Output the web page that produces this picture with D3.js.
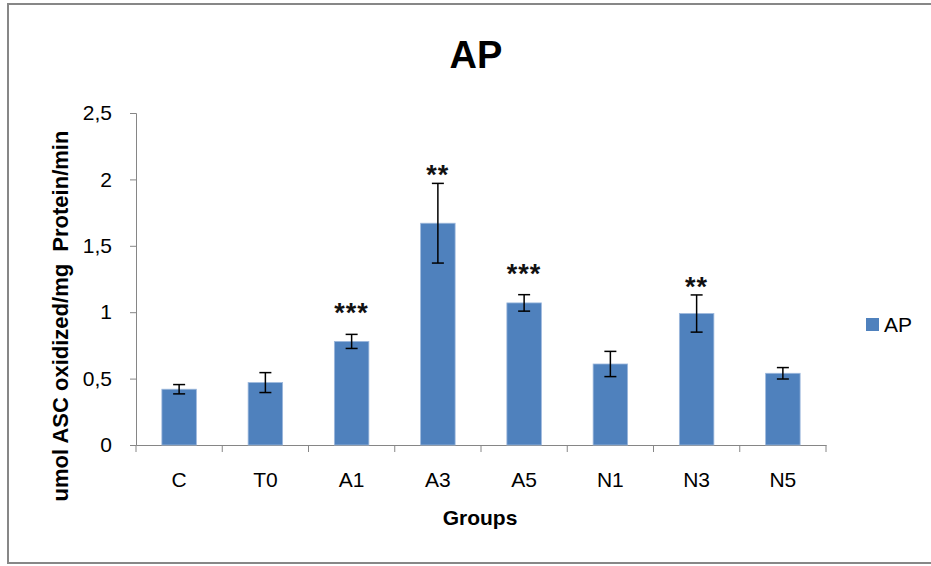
<!DOCTYPE html>
<html>
<head>
<meta charset="utf-8">
<script src="https://cdn.jsdelivr.net/npm/d3@7"></script>
<style>
  body { margin: 0; background: #fff; }
  text { font-family: "Liberation Sans", Arial, sans-serif; }
</style>
</head>
<body>
<div class="container"></div>
<script>
const groups = ["C", "T0", "A1", "A3", "A5", "N1", "N3", "N5"];
const apValues = [0.42, 0.47, 0.78, 1.67, 1.07, 0.61, 0.99, 0.54];
const apErrors = [0.035, 0.075, 0.053, 0.30, 0.062, 0.095, 0.14, 0.043];
const significance = ["", "", "***", "**", "***", "", "**", ""];
const yTicks = [0, 0.5, 1, 1.5, 2, 2.5];

const width = 931;
const height = 566;

const svg = d3.select("div.container")
    .append("svg")
    .attr("width", width)
    .attr("height", height);

// outer frame
svg.append("rect")
    .attr("x", 8).attr("y", 4)
    .attr("width", 932).attr("height", 559)
    .attr("fill", "none")
    .attr("stroke", "#878787")
    .attr("stroke-width", 2);

const x = d3.scaleBand().domain(groups).range([136, 826]).paddingInner(0.6).paddingOuter(0.3);
const band = d3.scaleBand().domain(groups).range([136, 826]);
const y = d3.scaleLinear().domain([0, 2.5]).range([445, 113]);

const comma = d3.formatLocale({decimal: ",", thousands: ".", grouping: [3], currency: ["", ""]});
const fmt = comma.format("");

// y axis
const yAxis = svg.append("g")
    .attr("transform", "translate(136,0)")
    .call(d3.axisLeft(y).tickValues(yTicks).tickFormat(d => fmt(d)).tickSize(6).tickPadding(18));
yAxis.select(".domain").attr("stroke", "#868686");
yAxis.selectAll(".tick line").attr("stroke", "#868686");
yAxis.selectAll("text").attr("font-size", 21).attr("fill", "#000").attr("font-family", "Liberation Sans");

// x axis: ticks on band edges
const xAxis = svg.append("g")
    .attr("transform", "translate(0,445)")
    .call(d3.axisBottom(band).tickSize(0).tickPadding(27));
xAxis.select(".domain").attr("stroke", "#868686");
xAxis.selectAll("text").attr("font-size", 21).attr("fill", "#000").attr("font-family", "Liberation Sans");
xAxis.selectAll(".edge")
    .data(groups.concat(["end"]))
    .enter()
    .append("line")
    .attr("x1", (d, i) => i < groups.length ? band(d) : band.range()[1])
    .attr("x2", (d, i) => i < groups.length ? band(d) : band.range()[1])
    .attr("y1", 0).attr("y2", 7)
    .attr("stroke", "#868686");

// bars
svg.append("g")
    .selectAll("rect")
    .data(groups)
    .enter()
    .append("rect")
    .attr("x", d => x(d))
    .attr("width", x.bandwidth())
    .attr("y", (d, i) => y(apValues[i]))
    .attr("height", (d, i) => y(0) - y(apValues[i]))
    .attr("fill", "#4F81BD")
    .attr("stroke", "#9db8dc")
    .attr("stroke-width", 0.8);

// error bars
const err = svg.append("g").attr("stroke", "#000").attr("stroke-width", 1.5);
groups.forEach((g, i) => {
    const cx = x(g) + x.bandwidth() / 2;
    const top = y(apValues[i] + apErrors[i]);
    const bot = y(apValues[i] - apErrors[i]);
    err.append("line").attr("x1", cx).attr("x2", cx).attr("y1", top).attr("y2", bot);
    err.append("line").attr("x1", cx - 6).attr("x2", cx + 6).attr("y1", top).attr("y2", top);
    err.append("line").attr("x1", cx - 6).attr("x2", cx + 6).attr("y1", bot).attr("y2", bot);
});

// significance stars
svg.append("g")
    .selectAll("text")
    .data(groups)
    .enter()
    .append("text")
    .attr("x", d => x(d) + x.bandwidth() / 2)
    .attr("y", (d, i) => y(apValues[i] + apErrors[i]) - (significance[i].length === 3 ? 25 : 12) + 13)
    .attr("text-anchor", "middle")
    .attr("font-size", 27)
    .attr("font-weight", "bold")
    .attr("letter-spacing", 1)
    .attr("fill", "#111")
    .text((d, i) => significance[i]);

// title
svg.append("text")
    .attr("x", 476).attr("y", 68)
    .attr("text-anchor", "middle")
    .attr("font-size", 38)
    .attr("font-weight", "bold")
    .text("AP");

// axis titles
svg.append("text")
    .attr("x", 480).attr("y", 525)
    .attr("text-anchor", "middle")
    .attr("font-size", 21)
    .attr("font-weight", "bold")
    .text("Groups");

svg.append("text")
    .attr("transform", "translate(68,316) rotate(-90)")
    .attr("text-anchor", "middle")
    .attr("font-size", 22)
    .attr("font-weight", "bold")
    .text("umol ASC oxidized/mg\u00a0\u00a0Protein/min");

// legend
svg.append("rect")
    .attr("x", 866).attr("y", 318)
    .attr("width", 13).attr("height", 13)
    .attr("fill", "#4F81BD");
svg.append("text")
    .attr("x", 884).attr("y", 332)
    .attr("font-size", 21)
    .text("AP");
</script>
</body>
</html>
